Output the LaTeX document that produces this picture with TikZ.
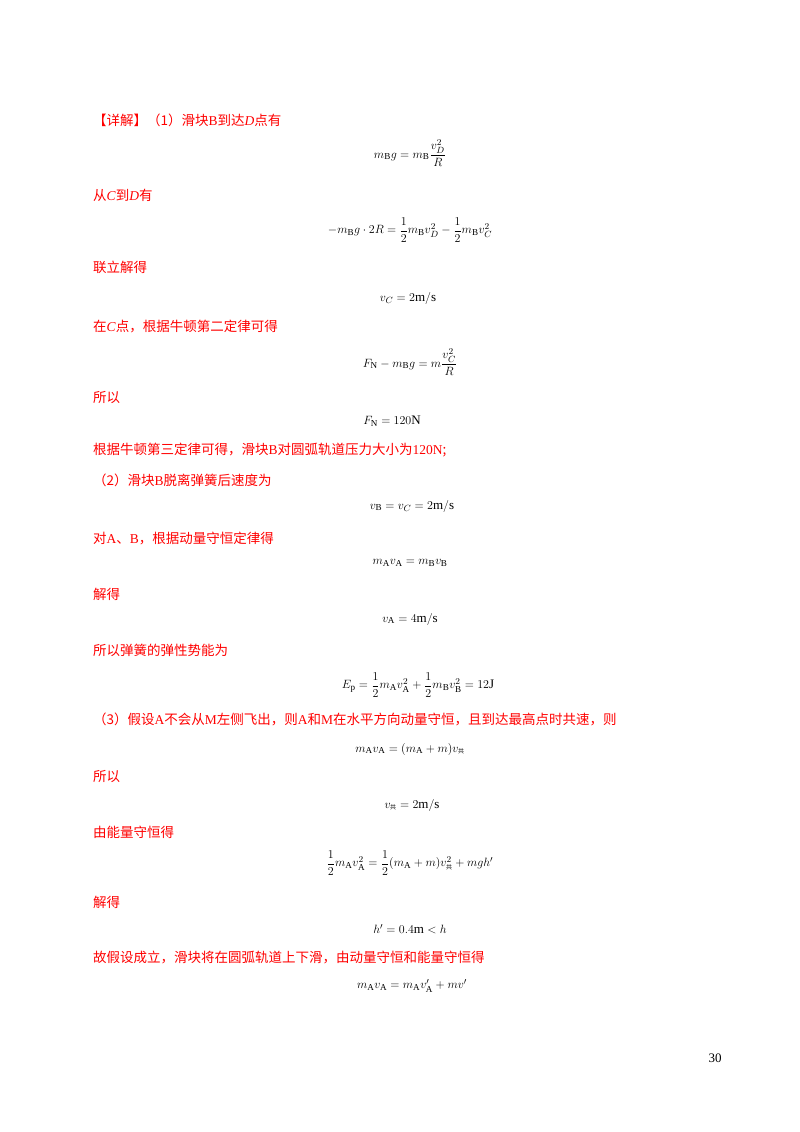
\documentclass[tikz,border=0pt]{standalone}
\usepackage{fontspec}
\usepackage{amsmath}
\setmainfont{Liberation Serif}
\newfontfamily\cjk{Noto Sans CJK SC}
\newcommand{\gong}{\hbox{\cjk\fontsize{6}{7}\selectfont 共}}
\newcommand{\lt}[1]{{\rmfamily #1}}
\begin{document}
\begin{tikzpicture}[x=1pt,y=-1pt,
  txt/.style={anchor=west,inner sep=0pt,text=red,font=\cjk\fontsize{13.5}{16}\selectfont},
  eq/.style={inner sep=0pt,font=\fontsize{13}{15}\selectfont}]
\fill[white] (0,0) rectangle (800,1132);
\node[txt] (t1) at (93,120) {【详解】（1）滑块\lt{B}到达\lt{\textit{D}}点有};
\node[eq] (e1) at (410,153) {$m_{\mathrm B}g=m_{\mathrm B}\dfrac{v_D^2}{R}$};
\node[txt] (t2) at (93,195) {从\lt{\textit{C}}到\lt{\textit{D}}有};
\node[eq] (e2) at (410,230) {$-m_{\mathrm B}g\cdot 2R=\dfrac12 m_{\mathrm B}v_D^2-\dfrac12 m_{\mathrm B}v_C^2$};
\node[txt] (t3) at (93,267) {联立解得};
\node[eq] (e3) at (408,298) {$v_C=2\mathrm{m/s}$};
\node[txt] (t4) at (93,327) {在\lt{\textit{C}}点，根据牛顿第二定律可得};
\node[eq] (e4) at (410,362) {$F_{\mathrm N}-m_{\mathrm B}g=m\dfrac{v_C^2}{R}$};
\node[txt] (t5) at (93,397) {所以};
\node[eq] (e5) at (392,421) {$F_{\mathrm N}=120\mathrm{N}$};
\node[txt] (t6) at (93,450) {根据牛顿第三定律可得，滑块\lt{B}对圆弧轨道压力大小为\lt{120N};};
\node[txt] (t7) at (93,480) {（2）滑块\lt{B}脱离弹簧后速度为};
\node[eq] (e7) at (412,506) {$v_{\mathrm B}=v_C=2\mathrm{m/s}$};
\node[txt] (t8) at (93,538) {对\lt{A}、\lt{B}，根据动量守恒定律得};
\node[eq] (e8) at (410,563) {$m_{\mathrm A}v_{\mathrm A}=m_{\mathrm B}v_{\mathrm B}$};
\node[txt] (t9) at (93,594) {解得};
\node[eq] (e9) at (410,619) {$v_{\mathrm A}=4\mathrm{m/s}$};
\node[txt] (t10) at (93,650) {所以弹簧的弹性势能为};
\node[eq] (e10) at (418,685) {$E_{\mathrm p}=\dfrac12 m_{\mathrm A}v_{\mathrm A}^2+\dfrac12 m_{\mathrm B}v_{\mathrm B}^2=12\mathrm{J}$};
\node[txt] (t11) at (93,719) {（3）假设\lt{A}不会从\lt{M}左侧飞出，则\lt{A}和\lt{M}在水平方向动量守恒，且到达最高点时共速，则};
\node[eq] (e11) at (410,749) {$m_{\mathrm A}v_{\mathrm A}=(m_{\mathrm A}+m)v_{\gong}$};
\node[txt] (t12) at (93,776) {所以};
\node[eq] (e12) at (412,805) {$v_{\gong}=2\mathrm{m/s}$};
\node[txt] (t13) at (93,832) {由能量守恒得};
\node[eq] (e13) at (410,863) {$\dfrac12 m_{\mathrm A}v_{\mathrm A}^2=\dfrac12(m_{\mathrm A}+m)v_{\gong}^2+mgh'$};
\node[txt] (t14) at (93,902) {解得};
\node[eq] (e14) at (410,929) {$h'=0.4\mathrm{m}<h$};
\node[txt] (t15) at (93,957) {故假设成立，滑块将在圆弧轨道上下滑，由动量守恒和能量守恒得};
\node[eq] (e15) at (412,986) {$m_{\mathrm A}v_{\mathrm A}=m_{\mathrm A}v_{\mathrm A}'+mv'$};
\node[eq] (pg) at (715,1058) {30};
\end{tikzpicture}
\end{document}
